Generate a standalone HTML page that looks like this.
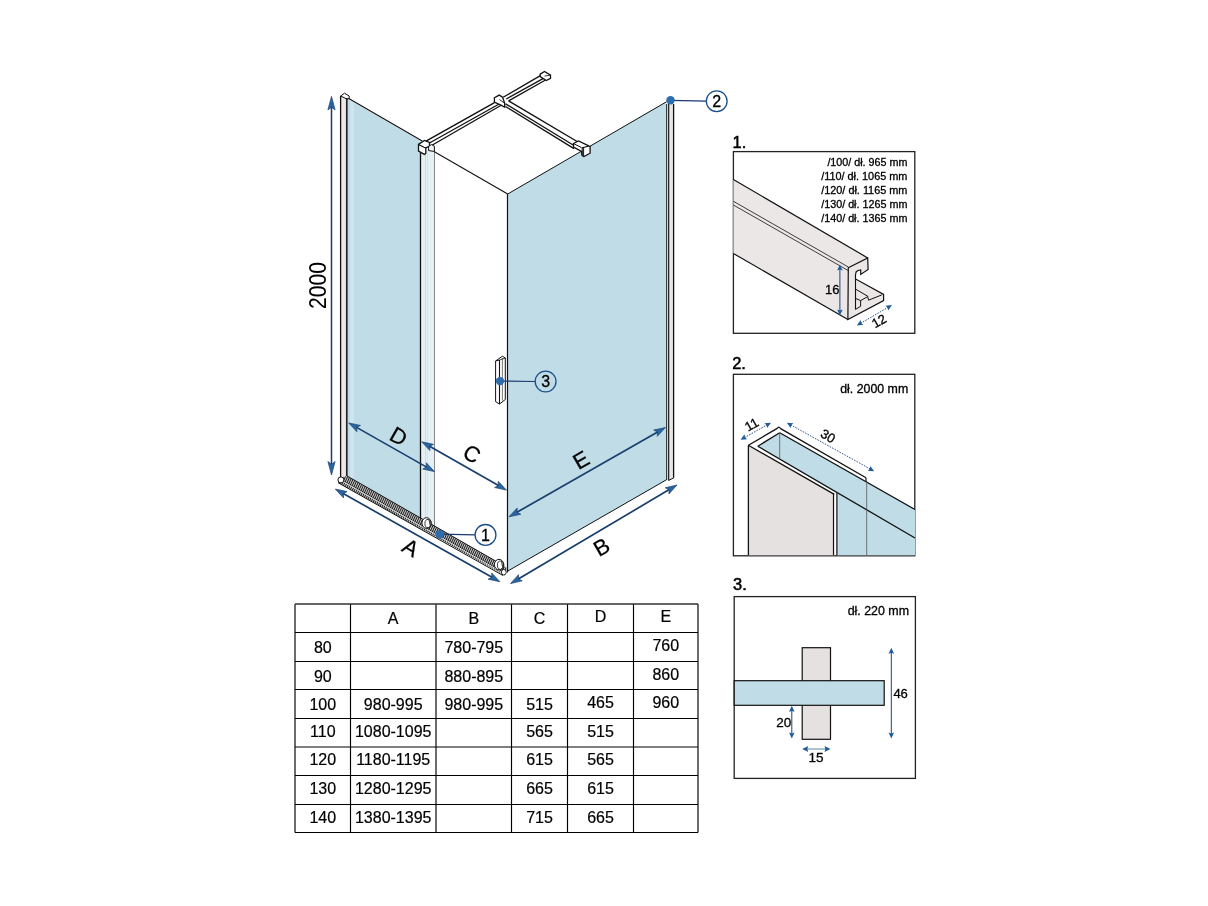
<!DOCTYPE html><html><head><meta charset="utf-8"><style>html,body{margin:0;padding:0;background:#fff;}svg{display:block;font-family:"Liberation Sans",sans-serif;will-change:transform;}</style></head><body>
<svg width="1208" height="906" viewBox="0 0 1208 906">
<rect width="1208" height="906" fill="#fff"/>
<defs><pattern id="hatch" width="2" height="6" patternUnits="userSpaceOnUse" patternTransform="rotate(25)"><rect width="2" height="6" fill="#fff"/><rect width="1.2" height="6" fill="#1a1a1a"/></pattern></defs>
<polygon points="347.5,98.5 420.5,141 420.5,521 347.5,477" fill="#c0dde7" stroke="none" stroke-width="1.0" stroke-linejoin="miter" />
<polygon points="350,100 354,102 354,479 350,477" fill="#cfe4ee" stroke="none" stroke-width="1.0" stroke-linejoin="miter" />
<polygon points="420.5,146 434.4,152 434.4,527 420.5,519" fill="#e5f0f5" stroke="none" stroke-width="1.0" stroke-linejoin="miter" />
<line x1="425.5" y1="150" x2="425.5" y2="523" stroke="#b8ccd6" stroke-width="0.6" />
<line x1="427.5" y1="150" x2="427.5" y2="524" stroke="#c8d8e0" stroke-width="0.6" />
<polygon points="507.5,194.0 666.5,101.5 666.5,479.7 507.5,571.2" fill="#c0dde7" stroke="none" stroke-width="1.0" stroke-linejoin="miter" />
<polygon points="340.6,95 346.8,98.5 346.8,477 340.6,476" fill="#ede9ea" stroke="none" stroke-width="1.0" stroke-linejoin="miter" />
<line x1="340.6" y1="96" x2="340.6" y2="477" stroke="#111" stroke-width="1.3" />
<line x1="346.8" y1="98" x2="346.8" y2="476" stroke="#222" stroke-width="1.7" />
<polyline points="340.6,96 344.5,93.2 349.2,96 349.2,98.5 346.8,99 340.6,96" fill="none" stroke="#111" stroke-width="1" />
<line x1="348.8" y1="98.4" x2="422.2" y2="140.9" stroke="#111" stroke-width="1.1" />
<line x1="420.5" y1="153" x2="420.5" y2="520" stroke="#111" stroke-width="1.3" />
<line x1="434.5" y1="150" x2="434.5" y2="527" stroke="#888" stroke-width="1.0" />
<line x1="434.4" y1="151.8" x2="507.7" y2="194.0" stroke="#111" stroke-width="1.1" />
<line x1="507.5" y1="194.0" x2="507.5" y2="572.4" stroke="#111" stroke-width="1.2" />
<line x1="507.7" y1="194.0" x2="667" y2="101.5" stroke="#111" stroke-width="1.0" />
<polygon points="666.7,101 673.6,100 673.6,478 666.7,480" fill="#fff" stroke="none" stroke-width="1.0" stroke-linejoin="miter" />
<polygon points="669.5,103 673,103 673,478 669.5,480" fill="#e9e6e7" stroke="none" stroke-width="1.0" stroke-linejoin="miter" />
<line x1="666.7" y1="104" x2="666.7" y2="480" stroke="#111" stroke-width="1.0" />
<line x1="668.7" y1="104" x2="668.7" y2="480.4" stroke="#111" stroke-width="1.2" />
<line x1="673.6" y1="104" x2="673.6" y2="477.7" stroke="#111" stroke-width="1.3" />
<line x1="668.7" y1="480.4" x2="674" y2="477.7" stroke="#111" stroke-width="1.0" />
<line x1="507.5" y1="571.2" x2="666.6" y2="479.7" stroke="#111" stroke-width="1.0" />
<polygon points="338.2,478 346.9,475.9 497,562 507,568 505,575.5 338.2,482.8" fill="url(#hatch)" stroke="none" stroke-width="1.0" stroke-linejoin="miter" />
<line x1="342" y1="480.0" x2="502" y2="571.3" stroke="#000" stroke-width="0.6" />
<line x1="342" y1="480.9" x2="502" y2="572.2" stroke="#fff" stroke-width="0.8" />
<line x1="338.2" y1="482.8" x2="503" y2="575.5" stroke="#111" stroke-width="1.0" />
<line x1="346.9" y1="475.9" x2="500" y2="563.5" stroke="#111" stroke-width="1.0" />
<circle cx="340.9" cy="479.9" r="3" fill="#fff" stroke="#111" stroke-width="1"/>
<ellipse cx="426.5" cy="523.0" rx="4.6" ry="5.3" fill="#fff" stroke="#111" stroke-width="1.0"/>
<ellipse cx="428.1" cy="523.6" rx="3.2" ry="4.2" fill="none" stroke="#222" stroke-width="0.9"/>
<path d="M429.0,519.5 L430.3,525.5" stroke="#444" stroke-width="1.2"/>
<ellipse cx="499.0" cy="564.6" rx="4.6" ry="5.3" fill="#fff" stroke="#111" stroke-width="1.0"/>
<ellipse cx="500.6" cy="565.2" rx="3.2" ry="4.2" fill="none" stroke="#222" stroke-width="0.9"/>
<path d="M501.5,561.1 L502.8,567.1" stroke="#444" stroke-width="1.2"/>
<ellipse cx="503.8" cy="572.2" rx="2.4" ry="2.8" fill="#fff" stroke="#111" stroke-width="0.9"/>
<polygon points="426,141.2 494.5,102.6 501.2,105.2 431,145.2" fill="#fff" stroke="none" stroke-width="1.0" stroke-linejoin="miter" />
<line x1="426" y1="141.2" x2="494.5" y2="102.6" stroke="#111" stroke-width="1.4" />
<line x1="429" y1="143.2" x2="500.5" y2="103.3" stroke="#111" stroke-width="1.3" />
<line x1="432" y1="145.2" x2="501.2" y2="105.2" stroke="#111" stroke-width="1.3" />
<polygon points="503.2,97.2 540.8,75.4 545.1,80.2 508.6,100.9" fill="#fff" stroke="none" stroke-width="1.0" stroke-linejoin="miter" />
<line x1="503.2" y1="97.2" x2="540.8" y2="75.4" stroke="#111" stroke-width="1.3" />
<line x1="506.2" y1="99" x2="543.9" y2="78.1" stroke="#111" stroke-width="1.3" />
<line x1="508.6" y1="100.9" x2="545.1" y2="80.2" stroke="#111" stroke-width="1.3" />
<polygon points="505.6,103.9 508.6,100.9 580,143.5 575.6,148.6" fill="#fff" stroke="none" stroke-width="1.0" stroke-linejoin="miter" />
<line x1="508.6" y1="100.9" x2="580.5" y2="143.5" stroke="#111" stroke-width="1.4" />
<line x1="505.6" y1="103.9" x2="575.6" y2="146.5" stroke="#111" stroke-width="1.3" />
<line x1="505.6" y1="106.5" x2="574" y2="148.6" stroke="#111" stroke-width="1.3" />
<polygon points="494.4,97.8 499.2,95.1 502.6,97.2 504.7,103.3 504.7,107.2 501.4,105.4 494.4,102.1" fill="#fff" stroke="#111" stroke-width="1.3" stroke-linejoin="miter" />
<line x1="499.5" y1="99.5" x2="504.7" y2="103.3" stroke="#111" stroke-width="0.9" />
<polygon points="540.2,74.1 544.5,71.4 550.5,75.1 550.5,78.4 546.3,80.5 540.2,76.6" fill="#fff" stroke="#111" stroke-width="1.3" stroke-linejoin="miter" />
<line x1="544.5" y1="76" x2="550.5" y2="75.1" stroke="#111" stroke-width="0.8" />
<polygon points="418.5,144.4 424.4,140.5 429.5,142.5 429.5,146 425.8,148 425.8,153.3 424.4,154.4 418.5,151.1" fill="#fff" stroke="#111" stroke-width="1.3" stroke-linejoin="miter" />
<polyline points="418.5,144.4 424,147.3 425.8,148" fill="none" stroke="#111" stroke-width="1.1" />
<polygon points="428.6,146.4 431.5,144.6 434.4,146.2 434.4,151.5 428.6,150.5" fill="#f4f4f4" stroke="#111" stroke-width="1.0" stroke-linejoin="miter" />
<polygon points="573.5,143.5 578.5,141.0 588.2,145.6 590.1,146.6 590.1,153.2 583.9,156.6 582.2,155.5 581.5,151.5 573.5,147.0" fill="#fff" stroke="#111" stroke-width="1.3" stroke-linejoin="miter" />
<polyline points="582.2,155.5 582.2,147.6 588.5,146.2" fill="none" stroke="#111" stroke-width="1.1" />
<line x1="583.6" y1="147.6" x2="583.6" y2="155.8" stroke="#111" stroke-width="1.0" />
<polyline points="573.5,143.5 581.5,147.6" fill="none" stroke="#111" stroke-width="1.0" />
<polygon points="495.6,361 502.4,356.2 505.3,358 505.3,399.5 499.5,404 495.6,401.6" fill="#fff" stroke="#111" stroke-width="1.0" stroke-linejoin="miter" />
<line x1="499.5" y1="360" x2="499.5" y2="404" stroke="#111" stroke-width="1.1" />
<line x1="502.4" y1="358" x2="502.4" y2="400.5" stroke="#555" stroke-width="0.8" />
<line x1="495.6" y1="361" x2="499.5" y2="360" stroke="#111" stroke-width="1.0" />
<line x1="499.5" y1="360" x2="505.3" y2="358" stroke="#111" stroke-width="0.8" />
<line x1="331.5" y1="105.85000000000001" x2="331.5" y2="465.55" stroke="#183f6c" stroke-width="1.5" />
<polygon points="331.5,96.4 335.1,109.9 331.5,107.2 327.9,109.9" fill="#2a65a3" stroke="#183f6c" stroke-width="0.7" stroke-linejoin="miter" />
<polygon points="331.5,475 327.9,461.5 331.5,464.2 335.1,461.5" fill="#2a65a3" stroke="#183f6c" stroke-width="0.7" stroke-linejoin="miter" />
<text x="0" y="0" font-size="23" transform="translate(325.9,309) rotate(-90)" textLength="47" lengthAdjust="spacingAndGlyphs">2000</text>
<line x1="342.31595539543656" y1="493.0470077133501" x2="492.8840446045634" y2="577.7529922866499" stroke="#183f6c" stroke-width="1.7" />
<polygon points="335.3,489.1 347.087914883923,491.6010123329136 343.3182347376418,493.6108659581144 343.5576719601814,497.8761525623724" fill="#2a65a3" stroke="#183f6c" stroke-width="0.7" stroke-linejoin="miter" />
<polygon points="499.9,581.7 488.11208511607697,579.1989876670864 491.8817652623582,577.1891340418857 491.6423280398186,572.9238474376277" fill="#2a65a3" stroke="#183f6c" stroke-width="0.7" stroke-linejoin="miter" />
<line x1="517.4265628950502" y1="579.4981435348232" x2="670.0734371049498" y2="489.10185646517687" stroke="#183f6c" stroke-width="1.7" />
<polygon points="510.5,583.6 518.5607192569491,574.6426117053771 518.4160718800574,578.9121640397979 522.2294604431943,580.8377983941176" fill="#2a65a3" stroke="#183f6c" stroke-width="0.7" stroke-linejoin="miter" />
<polygon points="677,485 668.9392807430509,493.957388294623 669.0839281199426,489.68783596020216 665.2705395568057,487.7622016058824" fill="#2a65a3" stroke="#183f6c" stroke-width="0.7" stroke-linejoin="miter" />
<line x1="355.7008769470815" y1="426.87369122753927" x2="427.4991230529185" y2="467.62630877246073" stroke="#183f6c" stroke-width="1.7" />
<polygon points="348.7,422.9 360.47830724355015,425.44587479592644 356.701002225236,427.44136140290203 356.92419831953987,431.70752871132856" fill="#2a65a3" stroke="#183f6c" stroke-width="0.7" stroke-linejoin="miter" />
<polygon points="434.5,471.6 422.72169275644984,469.05412520407356 426.498997774764,467.05863859709797 426.2758016804601,462.79247128867144" fill="#2a65a3" stroke="#183f6c" stroke-width="0.7" stroke-linejoin="miter" />
<line x1="428.69291099397617" y1="445.78769304615173" x2="499.4070890060238" y2="486.1123069538483" stroke="#183f6c" stroke-width="1.7" />
<polygon points="421.7,441.8 433.4731889934003,444.3694398077554 429.6918982788299,446.35736348131627 429.9065567036745,450.6239688955353" fill="#2a65a3" stroke="#183f6c" stroke-width="0.7" stroke-linejoin="miter" />
<polygon points="506.4,490.1 494.62681100659967,487.53056019224465 498.40810172117006,485.54263651868376 498.1934432963255,481.2760311044647" fill="#2a65a3" stroke="#183f6c" stroke-width="0.7" stroke-linejoin="miter" />
<line x1="515.9918303286911" y1="512.8104124705935" x2="658.5081696713089" y2="431.4895875294065" stroke="#183f6c" stroke-width="1.7" />
<polygon points="509,516.8 517.2041656737993,507.9738079787003 516.9906632327898,512.240471394964 520.7724924081751,514.2273705087097" fill="#2a65a3" stroke="#183f6c" stroke-width="0.7" stroke-linejoin="miter" />
<polygon points="665.5,427.5 657.2958343262007,436.3261920212997 657.5093367672102,432.05952860503595 653.7275075918249,430.0726294912903" fill="#2a65a3" stroke="#183f6c" stroke-width="0.7" stroke-linejoin="miter" />
<text x="0" y="0" font-size="22" text-anchor="middle" dominant-baseline="central" transform="translate(398.6,436.5) rotate(30)" stroke="#000" stroke-width="0.25">D</text>
<text x="0" y="0" font-size="22" text-anchor="middle" dominant-baseline="central" transform="translate(471.8,454) rotate(30)" stroke="#000" stroke-width="0.25">C</text>
<text x="0" y="0" font-size="22" text-anchor="middle" dominant-baseline="central" transform="translate(410.5,547.8) rotate(30)" stroke="#000" stroke-width="0.25">A</text>
<text x="0" y="0" font-size="22" text-anchor="middle" dominant-baseline="central" transform="translate(581,460) rotate(-30)" stroke="#000" stroke-width="0.25">E</text>
<text x="0" y="0" font-size="22" text-anchor="middle" dominant-baseline="central" transform="translate(601.7,547) rotate(-30)" stroke="#000" stroke-width="0.25">B</text>
<line x1="670.5" y1="100.3" x2="706.3000000000001" y2="101.2" stroke="#1a3a70" stroke-width="1.2" />
<circle cx="670.5" cy="100.3" r="4.2" fill="#2d6cad"/>
<circle cx="716.7" cy="101.2" r="10.4" fill="none" stroke="#1d4f8c" stroke-width="1.3"/>
<text x="716.7" y="107.0" font-size="16" text-anchor="middle" fill="#000" stroke="#000" stroke-width="0.3">2</text>
<line x1="500" y1="381.1" x2="535.2" y2="381.5" stroke="#1a3a70" stroke-width="1.2" />
<circle cx="500" cy="381.1" r="4.2" fill="#2d6cad"/>
<circle cx="545.6" cy="381.5" r="10.4" fill="none" stroke="#1d4f8c" stroke-width="1.3"/>
<text x="545.6" y="387.3" font-size="16" text-anchor="middle" fill="#000" stroke="#000" stroke-width="0.3">3</text>
<line x1="439.8" y1="534.2" x2="475.1" y2="534.9" stroke="#1a3a70" stroke-width="1.2" />
<circle cx="439.8" cy="534.2" r="4.2" fill="#2d6cad"/>
<circle cx="485.5" cy="534.9" r="10.4" fill="none" stroke="#1d4f8c" stroke-width="1.3"/>
<text x="485.5" y="540.6999999999999" font-size="16" text-anchor="middle" fill="#000" stroke="#000" stroke-width="0.3">1</text>
<text x="732.5" y="148" font-size="16.5" text-anchor="start" fill="#000" stroke="#000" stroke-width="0.5">1.</text>
<rect x="733.4" y="151.6" width="181.39999999999998" height="181.70000000000002" fill="none" stroke="#222" stroke-width="1.3"/>
<text x="732.2" y="369" font-size="16.5" text-anchor="start" fill="#000" stroke="#000" stroke-width="0.5">2.</text>
<rect x="733.4" y="374.3" width="181.39999999999998" height="181.49999999999994" fill="none" stroke="#222" stroke-width="1.3"/>
<text x="733" y="590" font-size="16.5" text-anchor="start" fill="#000" stroke="#000" stroke-width="0.5">3.</text>
<rect x="734.2" y="596.6" width="181.19999999999993" height="181.79999999999995" fill="none" stroke="#222" stroke-width="1.3"/>
<text x="907.4" y="165.6" font-size="10.9" text-anchor="end" fill="#000" textLength="80" lengthAdjust="spacingAndGlyphs" stroke="#000" stroke-width="0.3">/100/ dł. 965 mm</text>
<text x="907.4" y="179.7" font-size="10.9" text-anchor="end" fill="#000" textLength="86.2" lengthAdjust="spacingAndGlyphs" stroke="#000" stroke-width="0.3">/110/ dł. 1065 mm</text>
<text x="907.4" y="193.79999999999998" font-size="10.9" text-anchor="end" fill="#000" textLength="86.2" lengthAdjust="spacingAndGlyphs" stroke="#000" stroke-width="0.3">/120/ dł. 1165 mm</text>
<text x="907.4" y="207.89999999999998" font-size="10.9" text-anchor="end" fill="#000" textLength="86.2" lengthAdjust="spacingAndGlyphs" stroke="#000" stroke-width="0.3">/130/ dł. 1265 mm</text>
<text x="907.4" y="222.0" font-size="10.9" text-anchor="end" fill="#000" textLength="86.2" lengthAdjust="spacingAndGlyphs" stroke="#000" stroke-width="0.3">/140/ dł. 1365 mm</text>
<polygon points="733.4,179.5 867.7,257.9 848.3,267.8 847.9,319.5 733.4,253.5" fill="#ebe7e7" stroke="none" stroke-width="1.0" stroke-linejoin="miter" />
<line x1="733.4" y1="179.5" x2="867.7" y2="257.9" stroke="#111" stroke-width="1.2" />
<line x1="733.4" y1="253.5" x2="847.9" y2="319.5" stroke="#111" stroke-width="1.2" />
<line x1="733.4" y1="201.3" x2="848.3" y2="267.0" stroke="#111" stroke-width="0.8" />
<line x1="733.4" y1="205.0" x2="848.3" y2="270.6" stroke="#111" stroke-width="0.8" />
<polygon points="848.3,267.8 867.7,257.9 868.1,269.5 860.7,274.4 860.7,269.9 858,270.5 856.1,271.9 855.5,275 855.5,279 883.6,294.4 883.6,300.6 847.9,319.5" fill="#ebe7e7" stroke="#111" stroke-width="1.2" stroke-linejoin="miter" />
<line x1="855.5" y1="279" x2="855.5" y2="309.4" stroke="#111" stroke-width="1.1" />
<polyline points="855.5,289.1 867.7,296.2 868.5,300.2 881.8,294.9" fill="none" stroke="#111" stroke-width="1.0" />
<polyline points="855.5,298.4 860.6,300.6 860.6,306.3 855.5,309.4" fill="none" stroke="#111" stroke-width="1.0" />
<line x1="860.6" y1="300.6" x2="867.7" y2="296.6" stroke="#111" stroke-width="1.0" />
<line x1="839.9" y1="268.59999999999997" x2="839.9" y2="311.3" stroke="#1a4478" stroke-width="1.0" />
<polygon points="839.9,264.4 842.65,270.4 839.9,269.5 837.15,270.4" fill="#1f5b98" stroke="none" stroke-width="1.0" stroke-linejoin="miter" />
<polygon points="839.9,315.5 837.15,309.5 839.9,310.4 842.65,309.5" fill="#1f5b98" stroke="none" stroke-width="1.0" stroke-linejoin="miter" />
<text x="825" y="293.7" font-size="13" text-anchor="start" fill="#000" stroke="#000" stroke-width="0.3">16</text>
<line x1="860.433847646667" y1="323.3940201138634" x2="888.366152353333" y2="307.2059798861366" stroke="#1a4478" stroke-width="0.9" stroke-dasharray="1.6,1.2"/>
<polygon points="856.8,325.5 860.612295522173,320.1121522987728 861.2125292852386,322.94273870969124 863.3701263254471,324.87076231226547" fill="#1f5b98" stroke="none" stroke-width="1.0" stroke-linejoin="miter" />
<polygon points="892,305.1 888.187704477827,310.4878477012272 887.5874707147614,307.6572612903088 885.4298736745528,305.72923768773455" fill="#1f5b98" stroke="none" stroke-width="1.0" stroke-linejoin="miter" />
<text x="0" y="0" font-size="13" text-anchor="middle" dominant-baseline="central" transform="translate(879.1,321) rotate(-30)" stroke="#000" stroke-width="0.3">12</text>
<text x="908.2" y="392.8" font-size="12.5" text-anchor="end" fill="#000" textLength="68" lengthAdjust="spacingAndGlyphs" stroke="#000" stroke-width="0.3">dł. 2000 mm</text>
<polygon points="757.8,446.2 779.7,432.8 915,509.5 915,555.2 836.9,555.2 836.9,493.5" fill="#c0dde7" stroke="none" stroke-width="1.0" stroke-linejoin="miter" />
<polygon points="748.4,445.3 834.3,494.4 834.3,555.2 748.4,555.2" fill="#e6e1e1" stroke="none" stroke-width="1.0" stroke-linejoin="miter" />
<line x1="748.4" y1="445.3" x2="748.4" y2="555.2" stroke="#111" stroke-width="1.3" />
<line x1="748.4" y1="445.3" x2="834.3" y2="494.4" stroke="#111" stroke-width="1.3" />
<line x1="748.4" y1="445.3" x2="777.2" y2="428.4" stroke="#111" stroke-width="1.3" />
<line x1="780.2" y1="428.4" x2="866" y2="477.7" stroke="#111" stroke-width="1.3" />
<path d="M777.2,428.6 Q778.7,425.8 780.4,428.4" fill="none" stroke="#111" stroke-width="1.2"/>
<line x1="866" y1="477.7" x2="866" y2="481.7" stroke="#111" stroke-width="1.2" />
<line x1="779.7" y1="432.8" x2="915" y2="509.5" stroke="#111" stroke-width="1.3" />
<line x1="757.8" y1="446.2" x2="779.7" y2="432.8" stroke="#111" stroke-width="1.3" />
<line x1="757.8" y1="446.2" x2="915" y2="538" stroke="#111" stroke-width="1.3" />
<line x1="779.7" y1="432.8" x2="779.7" y2="458.7" stroke="#555" stroke-width="0.8" />
<line x1="866.7" y1="481.7" x2="866.7" y2="555.2" stroke="#555" stroke-width="0.8" />
<line x1="833.5" y1="493" x2="833.5" y2="555.2" stroke="#111" stroke-width="1.2" />
<line x1="836.9" y1="493" x2="836.9" y2="555.2" stroke="#111" stroke-width="1.2" />
<line x1="744.2657583524908" y1="437.65006934235714" x2="767.3342416475092" y2="424.74993065764284" stroke="#1a4478" stroke-width="0.9" stroke-dasharray="1.6,1.2"/>
<polygon points="740.6,439.7 744.4945811443873,434.371328710665 745.0512779994531,437.21079848714794 747.1790141484436,439.17172655321247" fill="#1f5b98" stroke="none" stroke-width="1.0" stroke-linejoin="miter" />
<polygon points="771,422.7 767.1054188556127,428.02867128933497 766.548722000547,425.18920151285204 764.4209858515565,423.2282734467875" fill="#1f5b98" stroke="none" stroke-width="1.0" stroke-linejoin="miter" />
<text x="0" y="0" font-size="13" text-anchor="middle" dominant-baseline="central" transform="translate(751.6,424.5) rotate(-30)" stroke="#000" stroke-width="0.3">11</text>
<line x1="790.4724511379632" y1="424.7379162493274" x2="870.5275488620368" y2="469.1620837506726" stroke="#1a4478" stroke-width="0.9" stroke-dasharray="1.6,1.2"/>
<polygon points="786.8,422.7 793.3807086936737,423.20672782537275 791.259404953241,425.17461258846896 790.7120088433641,428.01589002984844" fill="#1f5b98" stroke="none" stroke-width="1.0" stroke-linejoin="miter" />
<polygon points="874.2,471.2 867.6192913063263,470.6932721746272 869.740595046759,468.725387411531 870.2879911566359,465.88410997015154" fill="#1f5b98" stroke="none" stroke-width="1.0" stroke-linejoin="miter" />
<text x="0" y="0" font-size="13" text-anchor="middle" dominant-baseline="central" transform="translate(828,436) rotate(30)" stroke="#000" stroke-width="0.3">30</text>
<text x="909.0" y="614.9" font-size="12.5" text-anchor="end" fill="#000" textLength="61.3" lengthAdjust="spacingAndGlyphs" stroke="#000" stroke-width="0.3">dł. 220 mm</text>
<rect x="802.2" y="647.7" width="28.3" height="91.6" fill="#e6e1e1" stroke="#111" stroke-width="1.2"/>
<rect x="734.2" y="680.7" width="150" height="24.6" fill="#c0dde7" stroke="#111" stroke-width="1.2"/>
<line x1="891.3" y1="651.9000000000001" x2="891.3" y2="734.3" stroke="#1a4478" stroke-width="1.0" />
<polygon points="891.3,647.7 894.05,653.7 891.3,652.8000000000001 888.55,653.7" fill="#1f5b98" stroke="none" stroke-width="1.0" stroke-linejoin="miter" />
<polygon points="891.3,738.5 888.55,732.5 891.3,733.4 894.05,732.5" fill="#1f5b98" stroke="none" stroke-width="1.0" stroke-linejoin="miter" />
<text x="893.4" y="697.6" font-size="13" text-anchor="start" fill="#000" stroke="#000" stroke-width="0.3">46</text>
<line x1="791.8" y1="710.0" x2="791.8" y2="734.3" stroke="#1a4478" stroke-width="1.0" />
<polygon points="791.8,705.8 794.55,711.8 791.8,710.9 789.05,711.8" fill="#1f5b98" stroke="none" stroke-width="1.0" stroke-linejoin="miter" />
<polygon points="791.8,738.5 789.05,732.5 791.8,733.4 794.55,732.5" fill="#1f5b98" stroke="none" stroke-width="1.0" stroke-linejoin="miter" />
<text x="776.2" y="727.1" font-size="13.5" text-anchor="start" fill="#000" stroke="#000" stroke-width="0.3">20</text>
<line x1="806.4000000000001" y1="749.0" x2="826.3" y2="749.0" stroke="#a9c3d3" stroke-width="2.0" />
<polygon points="802.2,749 808.2,746.0 807.3000000000001,749.0 808.2,752.0" fill="#1f5b98" stroke="none" stroke-width="1.0" stroke-linejoin="miter" />
<polygon points="830.5,749 824.5,752.0 825.4,749.0 824.5,746.0" fill="#1f5b98" stroke="none" stroke-width="1.0" stroke-linejoin="miter" />
<text x="816" y="761.6" font-size="13.5" text-anchor="middle" fill="#000" stroke="#000" stroke-width="0.3">15</text>
<line x1="295.0" y1="604.0" x2="295.0" y2="832.5" stroke="#000" stroke-width="1.15" />
<line x1="350.5" y1="604.0" x2="350.5" y2="832.5" stroke="#000" stroke-width="1.15" />
<line x1="436.0" y1="604.0" x2="436.0" y2="832.5" stroke="#000" stroke-width="1.15" />
<line x1="511.5" y1="604.0" x2="511.5" y2="832.5" stroke="#000" stroke-width="1.15" />
<line x1="567.5" y1="604.0" x2="567.5" y2="832.5" stroke="#000" stroke-width="1.15" />
<line x1="633.5" y1="604.0" x2="633.5" y2="832.5" stroke="#000" stroke-width="1.15" />
<line x1="698.0" y1="604.0" x2="698.0" y2="832.5" stroke="#000" stroke-width="1.15" />
<line x1="295.0" y1="604.0" x2="698.0" y2="604.0" stroke="#333" stroke-width="1.3" />
<line x1="295.0" y1="632.5" x2="698.0" y2="632.5" stroke="#000" stroke-width="1.15" />
<line x1="295.0" y1="661.5" x2="698.0" y2="661.5" stroke="#000" stroke-width="1.15" />
<line x1="295.0" y1="689.5" x2="698.0" y2="689.5" stroke="#000" stroke-width="1.15" />
<line x1="295.0" y1="718.5" x2="698.0" y2="718.5" stroke="#000" stroke-width="1.15" />
<line x1="295.0" y1="747.0" x2="698.0" y2="747.0" stroke="#000" stroke-width="1.15" />
<line x1="295.0" y1="775.5" x2="698.0" y2="775.5" stroke="#000" stroke-width="1.15" />
<line x1="295.0" y1="804.5" x2="698.0" y2="804.5" stroke="#000" stroke-width="1.15" />
<line x1="295.0" y1="832.5" x2="698.0" y2="832.5" stroke="#000" stroke-width="1.15" />
<text x="393.2" y="624.2" font-size="16" text-anchor="middle" fill="#000" stroke="#000" stroke-width="0.2">A</text>
<text x="473.8" y="624.2" font-size="16" text-anchor="middle" fill="#000" stroke="#000" stroke-width="0.2">B</text>
<text x="539.5" y="624.2" font-size="16" text-anchor="middle" fill="#000" stroke="#000" stroke-width="0.2">C</text>
<text x="600.5" y="622.2" font-size="16" text-anchor="middle" fill="#000" stroke="#000" stroke-width="0.2">D</text>
<text x="665.8" y="622.2" font-size="16" text-anchor="middle" fill="#000" stroke="#000" stroke-width="0.2">E</text>
<text x="322.8" y="653.0" font-size="16" text-anchor="middle" fill="#000" stroke="#000" stroke-width="0.2">80</text>
<text x="473.8" y="653.0" font-size="16" text-anchor="middle" fill="#000" stroke="#000" stroke-width="0.2">780-795</text>
<text x="665.8" y="651.0" font-size="16" text-anchor="middle" fill="#000" stroke="#000" stroke-width="0.2">760</text>
<text x="322.8" y="681.5" font-size="16" text-anchor="middle" fill="#000" stroke="#000" stroke-width="0.2">90</text>
<text x="473.8" y="681.5" font-size="16" text-anchor="middle" fill="#000" stroke="#000" stroke-width="0.2">880-895</text>
<text x="665.8" y="679.5" font-size="16" text-anchor="middle" fill="#000" stroke="#000" stroke-width="0.2">860</text>
<text x="322.8" y="710.0" font-size="16" text-anchor="middle" fill="#000" stroke="#000" stroke-width="0.2">100</text>
<text x="393.2" y="710.0" font-size="16" text-anchor="middle" fill="#000" stroke="#000" stroke-width="0.2">980-995</text>
<text x="473.8" y="710.0" font-size="16" text-anchor="middle" fill="#000" stroke="#000" stroke-width="0.2">980-995</text>
<text x="539.5" y="710.0" font-size="16" text-anchor="middle" fill="#000" stroke="#000" stroke-width="0.2">515</text>
<text x="600.5" y="708.0" font-size="16" text-anchor="middle" fill="#000" stroke="#000" stroke-width="0.2">465</text>
<text x="665.8" y="708.0" font-size="16" text-anchor="middle" fill="#000" stroke="#000" stroke-width="0.2">960</text>
<text x="322.8" y="736.8" font-size="16" text-anchor="middle" fill="#000" stroke="#000" stroke-width="0.2">110</text>
<text x="393.2" y="736.8" font-size="16" text-anchor="middle" fill="#000" stroke="#000" stroke-width="0.2">1080-1095</text>
<text x="539.5" y="736.8" font-size="16" text-anchor="middle" fill="#000" stroke="#000" stroke-width="0.2">565</text>
<text x="600.5" y="736.8" font-size="16" text-anchor="middle" fill="#000" stroke="#000" stroke-width="0.2">515</text>
<text x="322.8" y="765.2" font-size="16" text-anchor="middle" fill="#000" stroke="#000" stroke-width="0.2">120</text>
<text x="393.2" y="765.2" font-size="16" text-anchor="middle" fill="#000" stroke="#000" stroke-width="0.2">1180-1195</text>
<text x="539.5" y="765.2" font-size="16" text-anchor="middle" fill="#000" stroke="#000" stroke-width="0.2">615</text>
<text x="600.5" y="765.2" font-size="16" text-anchor="middle" fill="#000" stroke="#000" stroke-width="0.2">565</text>
<text x="322.8" y="794.0" font-size="16" text-anchor="middle" fill="#000" stroke="#000" stroke-width="0.2">130</text>
<text x="393.2" y="794.0" font-size="16" text-anchor="middle" fill="#000" stroke="#000" stroke-width="0.2">1280-1295</text>
<text x="539.5" y="794.0" font-size="16" text-anchor="middle" fill="#000" stroke="#000" stroke-width="0.2">665</text>
<text x="600.5" y="794.0" font-size="16" text-anchor="middle" fill="#000" stroke="#000" stroke-width="0.2">615</text>
<text x="322.8" y="822.5" font-size="16" text-anchor="middle" fill="#000" stroke="#000" stroke-width="0.2">140</text>
<text x="393.2" y="822.5" font-size="16" text-anchor="middle" fill="#000" stroke="#000" stroke-width="0.2">1380-1395</text>
<text x="539.5" y="822.5" font-size="16" text-anchor="middle" fill="#000" stroke="#000" stroke-width="0.2">715</text>
<text x="600.5" y="822.5" font-size="16" text-anchor="middle" fill="#000" stroke="#000" stroke-width="0.2">665</text>
</svg></body></html>
